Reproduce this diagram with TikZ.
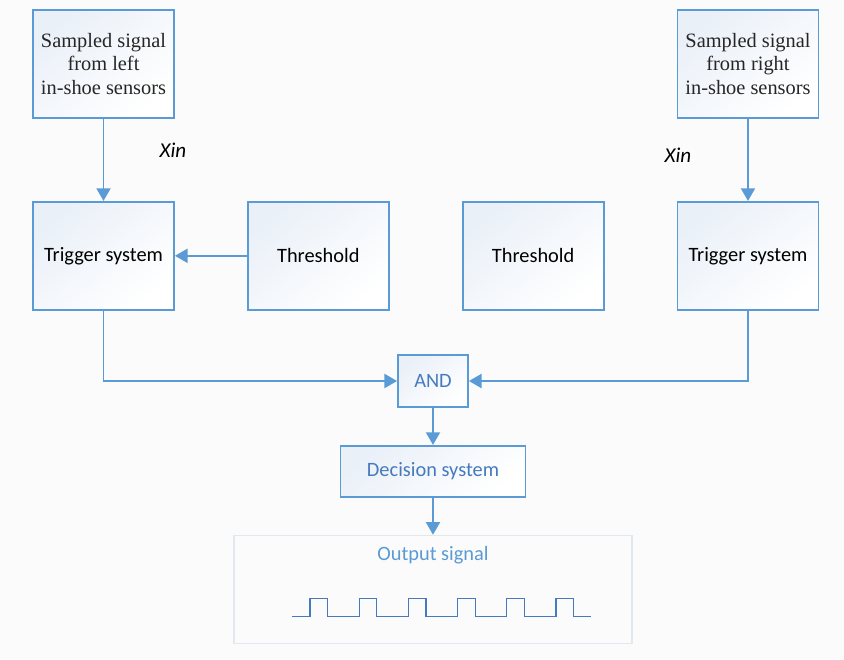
\documentclass[tikz,border=0pt]{standalone}
\usepackage{fontspec}
\setmainfont{Liberation Serif}
\newfontfamily\carl{Carlito}
\usepackage{tikz}
\usetikzlibrary{arrows.meta,positioning,calc}
\definecolor{boxline}{RGB}{91,155,213}
\definecolor{boxtext}{RGB}{70,122,190}
\definecolor{boxshade}{RGB}{234,240,248}
\definecolor{outline}{RGB}{226,232,240}
\definecolor{pagebg}{RGB}{251,251,251}

\begin{document}
\begin{tikzpicture}[
    node distance=2.05cm and 1.8cm,
    src/.style={rectangle, draw=boxline, line width=1.3pt, top color=boxshade, bottom color=white, shading angle=40, align=center, minimum height=2.7cm, minimum width=3.525cm, font=\fontsize{14.5}{16.5}\selectfont, text=black!85},
    blk/.style={src, font=\carl\fontsize{14.5}{17}\selectfont, text=black},
    gate/.style={blk, text=boxtext, minimum height=1.3cm, minimum width=1.75cm},
    lbl/.style={font=\carl\itshape\fontsize{15}{18}\selectfont},
    arr/.style={-{Triangle[width=10pt,length=9pt]}, line width=1.3pt, draw=boxline},
    wave/.style={line width=0.9pt, draw=boxtext}
]
    \path[use as bounding box, fill=pagebg] (0,0) rectangle (21.1,-16.475);

    \node [src] (srcL) at (2.5875,-1.6) {Sampled signal\\from left\\in-shoe sensors};
    \node [blk, below=of srcL] (trigL) {Trigger system};
    \node [blk, right=of trigL] (thrL) {Threshold};
    \node [blk, right=of thrL] (thrR) {Threshold};
    \node [blk, right=of thrR] (trigR) {Trigger system};
    \node [src, above=of trigR] (srcR) {Sampled signal\\from right\\in-shoe sensors};

    \node [gate] (and) at (10.825,-9.525) {AND};
    \node [gate, minimum width=4.625cm, minimum height=1.275cm, below=0.925cm of and] (dec) {Decision system};
    \node [draw=outline, line width=0.8pt, minimum width=9.95cm, minimum height=2.7cm, below=0.925cm of dec] (out) {};
    \node [font=\carl\fontsize{14.5}{17}\selectfont, text=boxline] (outlbl) at ($(out.north)+(0,-0.5)$) {Output signal};

    \node [lbl] (xinL) at (4.325,-3.75) {Xin};
    \node [lbl] (xinR) at (16.95,-3.875) {Xin};

    \draw [arr] (srcL) -- (trigL);
    \draw [arr] (srcR) -- (trigR);
    \draw [arr] (thrL) -- (trigL);
    \draw [arr] (trigL) |- (and);
    \draw [arr] (trigR) |- (and);
    \draw [arr] (and) -- (dec);
    \draw [arr] (dec) -- (out);

    \coordinate (w0) at ($(out.center)+(-3.525,-0.675)$);
    \draw [wave] (w0) foreach \i in {0,...,5} { -- ($(w0)+(0.45+1.23*\i,0)$) -- ++(0,0.45) -- ++(0.44,0) -- ++(0,-0.45) } -- ($(w0)+(7.475,0)$);
\end{tikzpicture}
\end{document}
